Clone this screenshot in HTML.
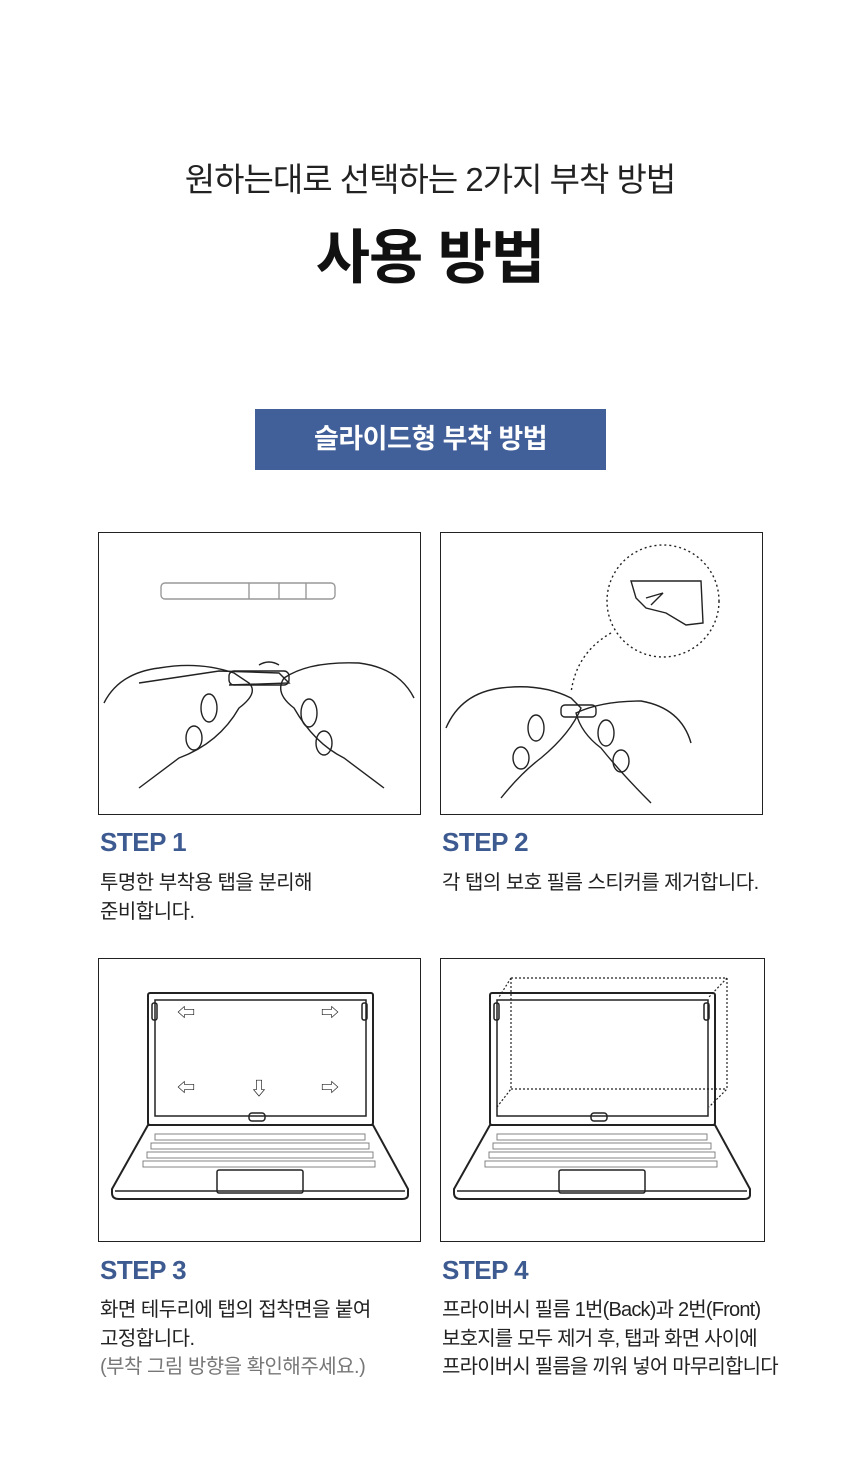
<!DOCTYPE html>
<html><head><meta charset="utf-8"><style>
body{margin:0;width:860px;height:1480px;background:#fff;font-family:"Liberation Sans","Noto Sans CJK KR",sans-serif;color:#222;position:relative;overflow:hidden}
.a{position:absolute;white-space:nowrap}
.panel{position:absolute;border:1.5px solid #222;box-sizing:border-box;background:#fff}
.step{position:absolute;color:#3d5a91;font-weight:bold;font-size:26px;letter-spacing:-0.5px}
.t{position:absolute;font-size:20px;line-height:28.5px;color:#222;letter-spacing:-0.5px;white-space:nowrap}
svg{position:absolute;left:0;top:0}
</style></head><body>
<div class="a" style="left:0;width:860px;text-align:center;top:153px;font-size:33px;letter-spacing:-1px;color:#222">원하는대로 선택하는 2가지 부착 방법</div>
<div class="a" style="left:0;width:860px;text-align:center;top:210px;font-size:59px;font-weight:bold;color:#111;letter-spacing:-1px">사용 방법</div>
<div class="a" style="left:255px;top:409px;width:351px;height:61px;background:#41609a;color:#fff;font-size:27px;font-weight:bold;text-align:center;line-height:61px;letter-spacing:-0.5px">슬라이드형 부착 방법</div>

<div class="panel" style="left:98px;top:532px;width:323px;height:283px">
<svg width="320" height="280" fill="none" stroke="#222" stroke-width="1.4">
<rect x="62" y="50" width="174" height="16" rx="4" stroke="#999"/><line x1="150" y1="50" x2="150" y2="66" stroke="#999"/><line x1="180" y1="50" x2="180" y2="66" stroke="#999"/><line x1="207" y1="50" x2="207" y2="66" stroke="#999"/>
<path d="M5 170 Q20 140 60 135 Q100 128 135 140 L150 150 Q160 160 140 175 Q120 210 80 225 Q60 240 40 255"/>
<path d="M40 150 L120 138 L180 140 L190 150 L130 152"/>
<path d="M315 165 Q300 135 260 130 Q210 128 185 145 Q175 160 195 175 Q215 210 245 225 Q265 240 285 255"/>
<ellipse cx="110" cy="175" rx="8" ry="14"/><ellipse cx="95" cy="205" rx="8" ry="12"/><ellipse cx="210" cy="180" rx="8" ry="14"/><ellipse cx="225" cy="210" rx="8" ry="12"/>
<rect x="130" y="138" width="60" height="14" rx="5"/><path d="M160 132 Q170 126 180 132"/>
</svg></div>
<div class="panel" style="left:440px;top:532px;width:323px;height:283px">
<svg width="320" height="280" fill="none" stroke="#222" stroke-width="1.4">
<circle cx="222" cy="68" r="56" stroke-dasharray="2 3"/><path d="M170 100 Q135 120 130 160" stroke-dasharray="2 3"/>
<path d="M190 48 L260 48 L262 90 L245 92 L225 80 L205 75 L195 65 Z"/><path d="M205 65 L222 60 L210 72"/>
<path d="M5 195 Q20 160 60 155 Q100 150 130 165 L140 175 Q130 200 100 225 Q80 240 60 265"/>
<path d="M250 210 Q240 175 200 168 Q160 168 135 180 Q140 200 160 215 Q180 240 210 270"/>
<ellipse cx="95" cy="195" rx="8" ry="13"/><ellipse cx="80" cy="225" rx="8" ry="11"/><ellipse cx="165" cy="200" rx="8" ry="13"/><ellipse cx="180" cy="228" rx="8" ry="11"/>
<rect x="120" y="172" width="35" height="12" rx="4"/>
</svg></div>
<div class="step" style="left:100px;top:827px">STEP 1</div>
<div class="t" style="left:100px;top:869px">투명한 부착용 탭을 분리해<br>준비합니다.</div>
<div class="step" style="left:442px;top:827px">STEP 2</div>
<div class="t" style="left:442px;top:869px">각 탭의 보호 필름 스티커를 제거합니다.</div>

<div class="panel" style="left:98px;top:958px;width:323px;height:284px">
<svg width="320" height="282" fill="none" stroke="#222" stroke-width="1.5">
<rect x="49" y="34" width="225" height="132" rx="2" stroke-width="2"/><rect x="56" y="41" width="211" height="116"/>
<rect x="53" y="44" width="5" height="17" rx="2"/><rect x="263" y="44" width="5" height="17" rx="2"/>
<rect x="150" y="154" width="16" height="8" rx="3"/>
<text x="78" y="60" font-size="18" fill="#222" stroke="none">⇦</text><text x="222" y="60" font-size="18" fill="#222" stroke="none">⇨</text>
<text x="78" y="135" font-size="18" fill="#222" stroke="none">⇦</text><text x="151" y="136" font-size="18" fill="#222" stroke="none">⇩</text><text x="222" y="135" font-size="18" fill="#222" stroke="none">⇨</text>
<path d="M49 166 L274 166 L309 230 L309 236 Q309 240 303 240 L20 240 Q13 240 13 234 L13 230 Z" stroke-width="2"/>
<line x1="16" y1="232" x2="306" y2="232"/>
<g stroke="#777" stroke-width="0.9"><rect x="56" y="175" width="210" height="6"/><rect x="52" y="184" width="218" height="6"/><rect x="48" y="193" width="226" height="6"/><rect x="44" y="202" width="232" height="6"/></g>
<rect x="118" y="211" width="86" height="23" rx="2"/>
</svg></div>
<div class="panel" style="left:440px;top:958px;width:325px;height:284px">
<svg width="322" height="282" fill="none" stroke="#222" stroke-width="1.5">
<rect x="49" y="34" width="225" height="132" rx="2" stroke-width="2"/><rect x="56" y="41" width="211" height="116"/>
<rect x="53" y="44" width="5" height="17" rx="2"/><rect x="263" y="44" width="5" height="17" rx="2"/>
<rect x="150" y="154" width="16" height="8" rx="3"/>
<g stroke-dasharray="2 2" stroke-width="1.2"><path d="M70 19 L286 19 L286 130 L268 148 M70 19 L58 38 M286 19 L268 38 M70 19 L70 130 L56 148 M70 130 L286 130"/></g>
<path d="M49 166 L274 166 L309 230 L309 236 Q309 240 303 240 L20 240 Q13 240 13 234 L13 230 Z" stroke-width="2"/>
<line x1="16" y1="232" x2="306" y2="232"/>
<g stroke="#777" stroke-width="0.9"><rect x="56" y="175" width="210" height="6"/><rect x="52" y="184" width="218" height="6"/><rect x="48" y="193" width="226" height="6"/><rect x="44" y="202" width="232" height="6"/></g>
<rect x="118" y="211" width="86" height="23" rx="2"/>
</svg></div>
<div class="step" style="left:100px;top:1255px">STEP 3</div>
<div class="t" style="left:100px;top:1296px">화면 테두리에 탭의 접착면을 붙여<br>고정합니다.<br><span style="color:#777">(부착 그림 방향을 확인해주세요.)</span></div>
<div class="step" style="left:442px;top:1255px">STEP 4</div>
<div class="t" style="left:442px;top:1296px;letter-spacing:-0.8px">프라이버시 필름 1번(Back)과 2번(Front)<br>보호지를 모두 제거 후, 탭과 화면 사이에<br>프라이버시 필름을 끼워 넣어 마무리합니다</div>
</body></html>
